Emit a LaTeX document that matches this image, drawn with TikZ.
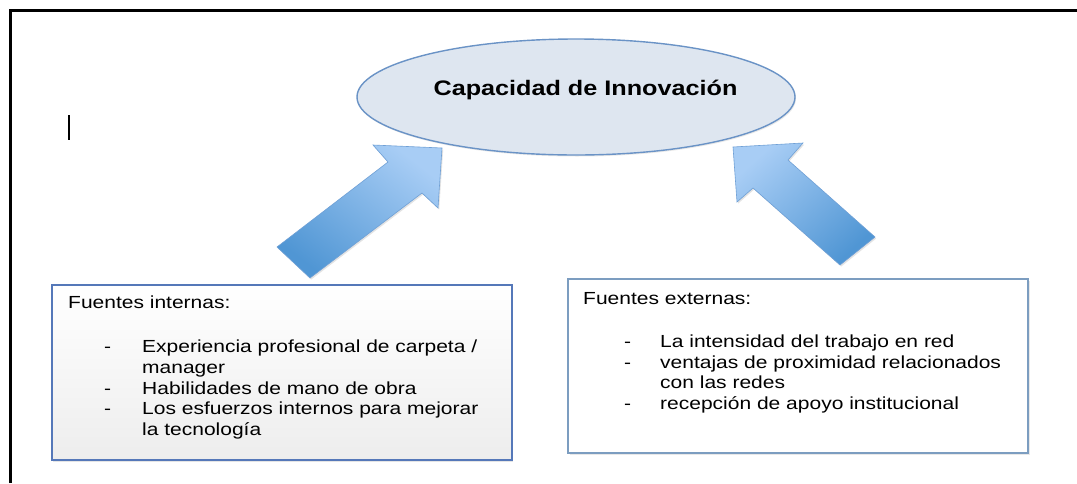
\documentclass[tikz,border=0pt]{standalone}
\usepackage{fontspec}
\setmainfont{Liberation Sans}[FakeStretch=1.2]
\usetikzlibrary{shapes.geometric,shadows}
\definecolor{ellfill}{HTML}{DEE6F0}
\definecolor{ellline}{HTML}{6A93C6}
\definecolor{arrlight}{HTML}{A8CDF5}
\definecolor{arrdark}{HTML}{5096D4}
\definecolor{arrline}{HTML}{6FA0D6}
\definecolor{boxA}{HTML}{5578B9}
\definecolor{boxB}{HTML}{7C9DC0}
\tikzset{
  blockarrow/.style={draw=arrline, line width=0.6pt, line join=miter,
    top color=arrlight, bottom color=arrdark,
    drop shadow={opacity=0.22, shadow xshift=1.2pt, shadow yshift=-1.5pt}},
  titletext/.style={font=\fontsize{21}{25}\selectfont\bfseries, inner sep=0pt, anchor=base},
  headtext/.style={font=\fontsize{17.5}{20.7}\selectfont, inner sep=0pt, anchor=base west},
  listtext/.style={font=\fontsize{17.5}{20.7}\selectfont, inner sep=0pt, anchor=base west},
}
\begin{document}
\begin{tikzpicture}[x=1pt,y=-1pt]
\useasboundingbox (0,0) rectangle (1077,483);
\fill[white] (0,0) rectangle (1077,483);
% outer frame (top and left only)
\draw[line width=3pt, black] (10,483) -- (10,10) -- (1077,10);
% cursor mark
\draw[line width=1.3pt, black] (69,115) -- (69,140);

% central ellipse
\node[ellipse, draw=ellline, line width=1.4pt, fill=ellfill,
      minimum width=438pt, minimum height=116pt, inner sep=0pt,
      drop shadow={opacity=0.18, shadow xshift=1pt, shadow yshift=-1.5pt}]
      (cap) at (576,97) {};
\node[titletext] (captext) at (585.5,95) {Capacidad de Innovación};

% left block arrow
\coordinate (la1) at (277,247);
\coordinate (la2) at (388,162);
\coordinate (la3) at (373,145);
\coordinate (la4) at (442,148);
\coordinate (la5) at (438,208);
\coordinate (la6) at (422,193);
\coordinate (la7) at (310,278);
\path[blockarrow, shading angle=-38] (la1) -- (la2) -- (la3) -- (la4) -- (la5) -- (la6) -- (la7) -- cycle;

% right block arrow
\coordinate (ra1) at (875,237);
\coordinate (ra2) at (788,160);
\coordinate (ra3) at (803,143);
\coordinate (ra4) at (733,147);
\coordinate (ra5) at (737,202);
\coordinate (ra6) at (753,188);
\coordinate (ra7) at (840,265);
\path[blockarrow, shading angle=42] (ra1) -- (ra2) -- (ra3) -- (ra4) -- (ra5) -- (ra6) -- (ra7) -- cycle;

% left box
\node[draw=boxA, line width=2.6pt, top color=white, middle color=white, bottom color=black!7,
      minimum width=460pt, minimum height=175pt, inner sep=0pt,
      drop shadow={opacity=0.2, shadow xshift=1pt, shadow yshift=-1.5pt}]
      (intbox) at (282,372.5) {};
\node[headtext] (inthead) at (68,308) {Fuentes internas:};
\node[listtext] (intlist) at (104,352.7) {%
  \renewcommand{\arraystretch}{1}%
  \begin{tabular}[t]{@{}l@{\hspace{31pt}}l@{}}
  - & Experiencia profesional de carpeta /\\
    & manager\\
  - & Habilidades de mano de obra\\
  - & Los esfuerzos internos para mejorar\\
    & la tecnología
  \end{tabular}};

% right box
\node[draw=boxB, line width=1.6pt, fill=white,
      minimum width=460pt, minimum height=174pt, inner sep=0pt,
      drop shadow={opacity=0.18, shadow xshift=1.5pt, shadow yshift=-1.5pt}]
      (extbox) at (798,366) {};
\node[headtext] (exthead) at (583,304) {Fuentes externas:};
\node[listtext] (extlist) at (624,347.3) {%
  \renewcommand{\arraystretch}{1}%
  \begin{tabular}[t]{@{}l@{\hspace{29pt}}l@{}}
  - & La intensidad del trabajo en red\\
  - & ventajas de proximidad relacionados\\
    & con las redes\\
  - & recepción de apoyo institucional
  \end{tabular}};
\end{tikzpicture}
\end{document}
